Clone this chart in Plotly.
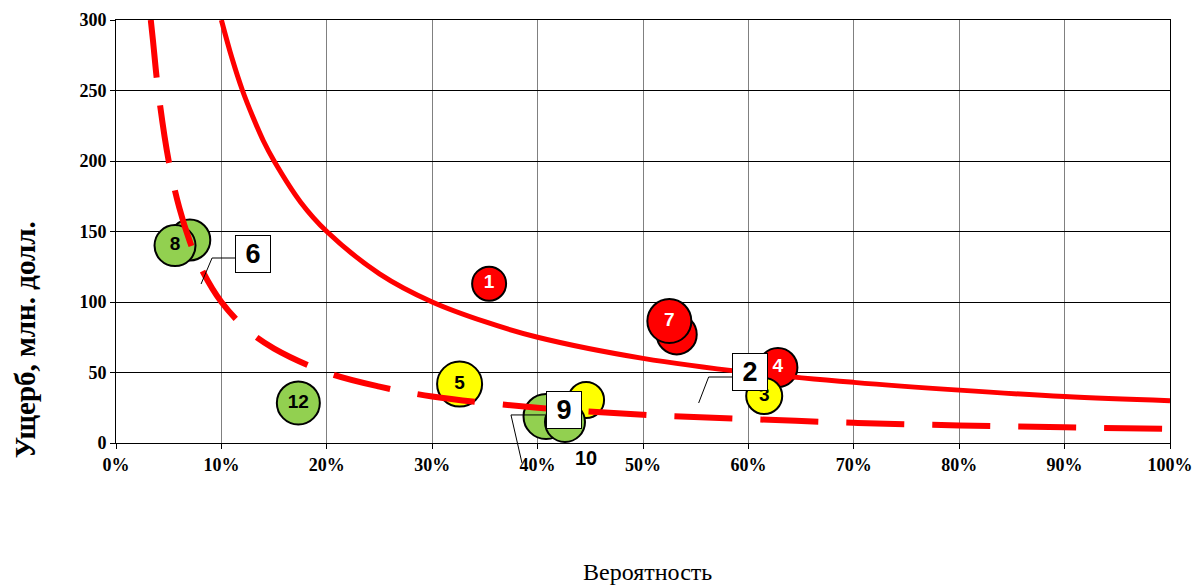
import plotly.graph_objects as go

# Bubbles: probability (share), damage (mln USD), bubble diameter, zone colour, label
prob = [0.354, 0.532, 0.525, 0.628, 0.615, 0.326, 0.446, 0.408, 0.426, 0.173, 0.070, 0.056]
damage = [113, 77, 86.5, 53.5, 33.3, 41.8, 30.5, 18.8, 14.9, 28.4, 144, 140]
bubble_size = [36, 42, 46, 41, 38, 47, 38, 47, 42, 45, 43, 43]
zone = ['red', 'red', 'red', 'red', 'yellow', 'yellow', 'yellow', 'green', 'green', 'green', 'green', 'green']
labels = ['1', '', '7', '4', '3', '5', '', '', '11', '12', '', '8']

# Iso-risk curves
upper_x = [0.10, 0.11, 0.12, 0.13, 0.14, 0.15, 0.175, 0.20, 0.25, 0.30, 0.35, 0.40, 0.50, 0.60, 0.70, 0.80, 0.90, 1.00]
upper_y = [300, 273, 250, 231, 214, 200, 171, 150, 120, 100, 86, 75, 60, 50, 43, 37.5, 33, 30]
lower_x = [0.033, 0.035, 0.04, 0.05, 0.06, 0.07, 0.08, 0.10, 0.125, 0.15, 0.20, 0.25, 0.30, 0.40, 0.50, 0.60, 0.70, 0.80, 0.90, 1.00]
lower_y = [300, 286, 250, 200, 167, 143, 125, 100, 80, 67, 50, 40, 33, 25, 20, 17, 14.3, 12.5, 11.1, 10]

x_ticks = [i / 10 for i in range(11)]
y_ticks = [0, 50, 100, 150, 200, 250, 300]
y_max = 300

zone_colors = {'red': '#FF0000', 'yellow': '#FFFF00', 'green': '#92D050'}
text_colors = {'red': 'white', 'yellow': 'black', 'green': 'black'}

fig = go.Figure()

fig.add_trace(go.Scatter(
    x=prob, y=damage,
    mode='markers+text',
    text=[f'<b>{t}</b>' if t else '' for t in labels],
    textposition='middle center',
    textfont=dict(family='Liberation Sans', size=19, color=[text_colors[z] for z in zone]),
    marker=dict(size=[s - 2 for s in bubble_size],
                color=[zone_colors[z] for z in zone],
                opacity=1,
                line=dict(color='black', width=2)),
    cliponaxis=False,
    showlegend=False,
    hoverinfo='skip',
))

fig.add_trace(go.Scatter(
    x=upper_x, y=upper_y, mode='lines', line_shape='spline',
    line=dict(color='#FF0000', width=5), showlegend=False, hoverinfo='skip'))

fig.add_trace(go.Scatter(
    x=lower_x, y=lower_y, mode='lines', line_shape='spline',
    line=dict(color='#FF0000', width=6, dash='58px,28px'), showlegend=False, hoverinfo='skip'))

# Boxed callouts with bent leader lines (paper refs so the leaders are not clipped)
callouts = [
    # text, box x, box y, leader start x, leader start y, path (pixels)
    ('6', 0.130, 134, 0.1139, 131.2, 'M0,0 L-24,0 L-35,-26'),
    ('2', 0.6015, 50.3, 0.586, 46.8, 'M0,0 L-25,0 L-35,-26'),
    ('9', 0.425, 23.4, 0.407, 19.9, 'M0,0 L-34,0 L-23,-48'),
]
for txt, bx, by, lx, ly, path in callouts:
    fig.add_shape(type='path', xref='paper', yref='paper', xsizemode='pixel', ysizemode='pixel',
                  xanchor=lx, yanchor=ly / y_max, path=path,
                  line=dict(color='black', width=1), layer='above')
    fig.add_annotation(x=bx, y=by, xref='x', yref='y', text=f'<b>{txt}</b>', showarrow=False,
                       font=dict(family='Liberation Sans', size=27, color='black'),
                       bgcolor='white', bordercolor='black', borderwidth=1, borderpad=3,
                       width=28)

# label of point 10 sits below the axis
fig.add_annotation(x=0.446, y=-10.6 / y_max, xref='paper', yref='paper', text='<b>10</b>',
                   showarrow=False, xanchor='center', yanchor='middle',
                   font=dict(family='Liberation Sans', size=20, color='black'))

fig.add_annotation(x=0.504, y=-0.305, xref='paper', yref='paper', text='Вероятность',
                   xanchor='center', yanchor='middle',
                   showarrow=False, font=dict(family='Liberation Serif', size=24, color='black'))
fig.add_annotation(x=-0.086, y=0.2435, xref='paper', yref='paper', text='<b>Ущерб, млн. долл.</b>',
                   textangle=-90, showarrow=False, xanchor='center', yanchor='middle',
                   font=dict(family='Liberation Serif', size=29, color='black'))

tick_font = dict(family='Liberation Serif', size=18, color='black', weight='bold')

fig.update_xaxes(range=[0, 1], tickvals=x_ticks, tickformat='.0%',
                 showgrid=True, gridcolor='#808080', gridwidth=1,
                 showline=True, linecolor='black', linewidth=1, mirror=True,
                 ticks='outside', ticklen=5, tickcolor='black',
                 tickfont=tick_font, zeroline=False, automargin=False)
fig.update_yaxes(range=[0, y_max], tickvals=y_ticks,
                 showgrid=True, gridcolor='black', gridwidth=1,
                 showline=True, linecolor='black', linewidth=1, mirror=True,
                 ticks='outside', ticklen=5, tickcolor='black',
                 tickfont=tick_font, zeroline=False, automargin=False)

fig.update_layout(
    width=1195, height=577,
    margin=dict(l=108, r=33, t=12, b=142),
    paper_bgcolor='white', plot_bgcolor='white',
    showlegend=False,
)

fig.write_html("out.html")
